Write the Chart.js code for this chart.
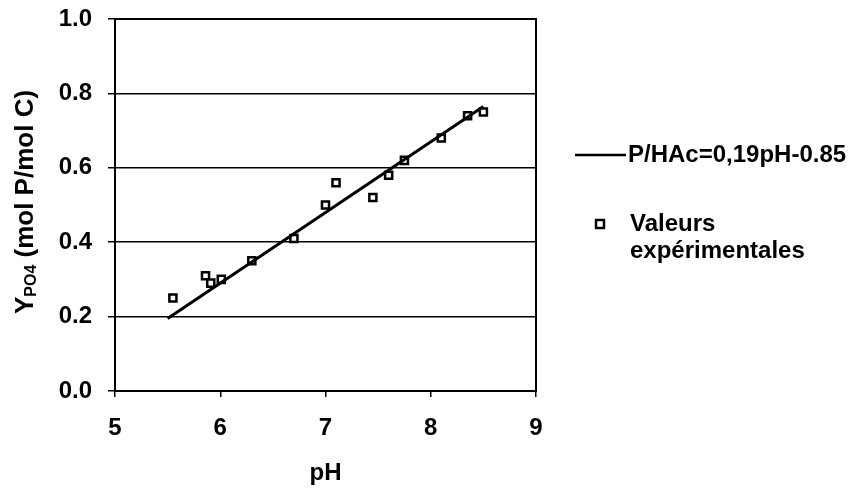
<!DOCTYPE html>
<html>
<head>
<meta charset="utf-8">
<script src="https://cdn.jsdelivr.net/npm/chart.js@4.4.1/dist/chart.umd.min.js"></script>
<style>
  body { margin: 0; background: #fff; }
  #wrap { width: 867px; height: 492px; }
</style>
</head>
<body>
<div id="wrap"><canvas id="chartPH"></canvas></div>
<script>
// valeurs
var phMesures = [5.55, 5.86, 5.91, 6.01, 6.30, 6.70, 7.00, 7.10, 7.45, 7.60, 7.75, 8.10, 8.35, 8.50];
var yMesures  = [0.25, 0.31, 0.29, 0.30, 0.35, 0.41, 0.50, 0.56, 0.52, 0.58, 0.62, 0.68, 0.74, 0.75];
var phDroite  = [5.5, 8.5];
var yDroite   = [0.195, 0.765];
var xTicks = [5, 6, 7, 8, 9];
var yTicks = [0.0, 0.2, 0.4, 0.6, 0.8, 1.0];
var labelDroite = "P/HAc=0,19pH-0.85";
var labelPoints = ["Valeurs", "expérimentales"];

var police = "'Liberation Sans', Arial, sans-serif";

function toXY(xs, ys) {
    return xs.map(function (x, i) { return { x: x, y: ys[i] }; });
}

// cadre + titre Y avec indice + légende
var decor = {
    id: 'decor',
    afterDraw: function (chart) {
        var ctx = chart.ctx;
        var a = chart.chartArea;
        ctx.save();
        ctx.strokeStyle = '#000';
        ctx.lineWidth = 2;
        ctx.strokeRect(a.left, a.top, a.right - a.left, a.bottom - a.top);

        // titre axe Y
        ctx.translate(26, 202);
        ctx.rotate(-Math.PI / 2);
        ctx.fillStyle = '#000';
        ctx.textBaseline = 'middle';
        var f1 = 'bold 26px ' + police, f2 = 'bold 16px ' + police;
        ctx.font = f1;
        var wY = ctx.measureText('Y').width;
        var wR = ctx.measureText(' (mol P/mol C)').width;
        ctx.font = f2;
        var wS = ctx.measureText('PO4').width;
        var x0 = -(wY + wS + wR) / 2;
        ctx.font = f1;
        ctx.fillText('Y', x0, 0);
        ctx.font = f2;
        ctx.fillText('PO4', x0 + wY, 6);
        ctx.font = f1;
        ctx.fillText(' (mol P/mol C)', x0 + wY + wS, 0);
        ctx.restore();

        // légende
        ctx.save();
        ctx.fillStyle = '#000';
        ctx.strokeStyle = '#000';
        ctx.font = 'bold 24px ' + police;
        ctx.textBaseline = 'middle';
        ctx.lineWidth = 2.5;
        ctx.beginPath();
        ctx.moveTo(575, 155);
        ctx.lineTo(626, 155);
        ctx.stroke();
        ctx.fillText(labelDroite, 628, 155);
        ctx.lineWidth = 2.5;
        ctx.fillStyle = '#fff';
        ctx.fillRect(596, 220, 8, 8);
        ctx.strokeRect(596, 220, 8, 8);
        ctx.fillStyle = '#000';
        ctx.fillText(labelPoints[0], 630, 224);
        ctx.fillText(labelPoints[1], 630, 251);
        ctx.restore();
    }
};

var ctxPH = document.getElementById('chartPH').getContext('2d');
var chart = new Chart(ctxPH, {
    type: 'scatter',
    data: {
        datasets: [{
            label: labelDroite,
            type: 'line',
            data: toXY(phDroite, yDroite),
            borderColor: '#000',
            borderWidth: 3,
            pointRadius: 0,
            fill: false
        }, {
            label: labelPoints.join(' '),
            data: toXY(phMesures, yMesures),
            pointStyle: 'rect',
            pointRadius: 5,
            borderColor: '#000',
            backgroundColor: '#fff',
            borderWidth: 2.5
        }]
    },
    options: {
        responsive: true,
        maintainAspectRatio: false,
        animation: false,
        layout: { padding: { left: 0, top: 19, right: 331, bottom: 0 } },
        plugins: { legend: { display: false }, tooltip: { enabled: false } },
        scales: {
            x: {
                type: 'linear', min: 5, max: 9,
                afterBuildTicks: function (s) { s.ticks = xTicks.map(function (v) { return { value: v }; }); },
                afterFit: function (s) { s.height = 101; s.paddingLeft = 0; s.paddingRight = 0; },
                grid: { drawOnChartArea: false, drawTicks: true, tickLength: 6, color: '#000', lineWidth: 1.5 },
                border: { color: '#000', width: 2 },
                ticks: { color: '#000', padding: 17, font: { family: police, size: 24, weight: 'bold' } },
                title: { display: true, text: 'pH', color: '#000', padding: { top: 8 }, font: { family: police, size: 24, weight: 'bold' } }
            },
            y: {
                type: 'linear', min: 0, max: 1,
                afterBuildTicks: function (s) { s.ticks = yTicks.map(function (v) { return { value: v }; }); },
                afterFit: function (s) { s.width = 115; s.paddingTop = 0; s.paddingBottom = 0; },
                grid: { color: '#000', lineWidth: 1.5, tickLength: 7 },
                border: { color: '#000', width: 2 },
                ticks: {
                    color: '#000', padding: 16,
                    font: { family: police, size: 24, weight: 'bold' },
                    callback: function (v) { return v.toFixed(1); }
                }
            }
        }
    },
    plugins: [decor]
});
</script>
</body>
</html>
